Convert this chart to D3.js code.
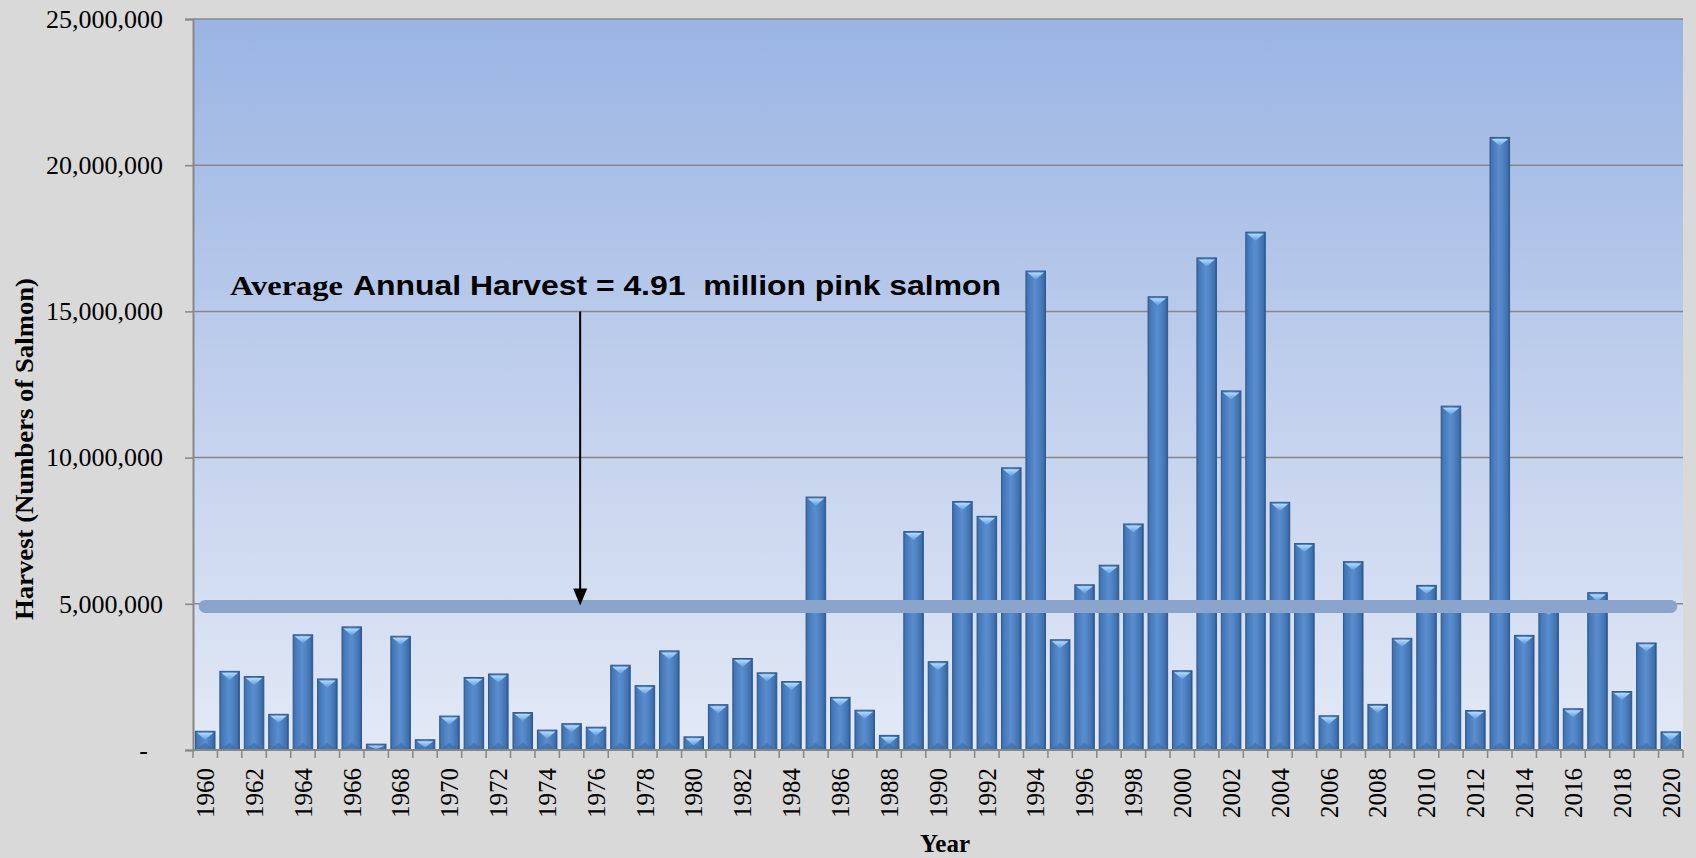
<!DOCTYPE html>
<html>
<head>
<meta charset="utf-8">
<script src="https://cdn.jsdelivr.net/npm/d3@7"></script>
<style>
  html, body { margin: 0; padding: 0; background: #D9D9D9; }
  svg { display: block; }
</style>
</head>
<body>
<svg id="chart" width="1696" height="858"></svg>
<script>
const years = d3.range(1960, 2021);
const harvest = [
  0.64, 2.69, 2.51, 1.22, 3.94, 2.43, 4.21, 0.20, 3.89, 0.35,
  1.16, 2.48, 2.60, 1.28, 0.68, 0.90, 0.78, 2.90, 2.20, 3.39,
  0.45, 1.55, 3.13, 2.64, 2.34, 8.65, 1.80, 1.36, 0.50, 7.47,
  3.02, 8.50, 7.99, 9.65, 16.38, 3.77, 5.65, 6.32, 7.73, 15.50,
  2.71, 16.83, 12.28, 17.71, 8.47, 7.06, 1.17, 6.44, 1.56, 3.82,
  5.63, 11.76, 1.35, 20.95, 3.92, 4.90, 1.41, 5.38, 2.00, 3.66,
  0.62
].map(v => v * 1e6);
const yTicks = [0, 5e6, 10e6, 15e6, 20e6, 25e6];
const xTickYears = years.filter(y => y % 2 === 0);
const averageHarvest = 4.91e6;
const annotationPrefix = "Average";
const annotationText = "Annual Harvest = 4.91\u00a0 million pink salmon";
const yTitle = "Harvest (Numbers of Salmon)";
const xTitle = "Year";

const svg = d3.select("#chart");
const W = 1696, H = 858;
const pLeft = 193, pRight = 1683, pTop = 19, pBottom = 750;

svg.append("rect").attr("width", W).attr("height", H).attr("fill", "#D9D9D9");

const defs = svg.append("defs");
const bg = defs.append("linearGradient").attr("id", "plotbg").attr("x1", 0).attr("y1", 0).attr("x2", 0).attr("y2", 1);
bg.append("stop").attr("offset", "0%").attr("stop-color", "#9AB4E3");
bg.append("stop").attr("offset", "50%").attr("stop-color", "#C0CFEC");
bg.append("stop").attr("offset", "100%").attr("stop-color", "#E3E9F6");

const barG = defs.append("linearGradient").attr("id", "bargrad").attr("x1", 0).attr("y1", 0).attr("x2", 1).attr("y2", 0);
[["0%", "#3A6AA8"], ["10%", "#4477B7"], ["45%", "#5A8DCD"], ["60%", "#5487C8"], ["90%", "#3F70AE"], ["100%", "#2C5689"]]
  .forEach(([o, c]) => barG.append("stop").attr("offset", o).attr("stop-color", c));

const capG = defs.append("linearGradient").attr("id", "capgrad").attr("x1", 0).attr("y1", 0).attr("x2", 0).attr("y2", 1);
capG.append("stop").attr("offset", "0%").attr("stop-color", "#B4DCFF");
capG.append("stop").attr("offset", "100%").attr("stop-color", "#5E9BE0");

const x = d3.scaleBand().domain(years).range([pLeft, pRight]).paddingInner(0.2).paddingOuter(0.1);
const y = d3.scaleLinear().domain([0, 25e6]).range([pBottom, pTop]);
const step = x.step(), bw = x.bandwidth();

// plot area background
svg.append("rect").attr("x", pLeft).attr("y", y(25e6)).attr("width", pRight - pLeft).attr("height", y(0) - y(25e6))
  .attr("fill", "url(#plotbg)");

// gridlines
svg.append("g").selectAll("line").data(yTicks.filter(t => t > 0)).join("line")
  .attr("x1", pLeft).attr("x2", pRight).attr("y1", d => y(d)).attr("y2", d => y(d))
  .attr("stroke", "#878787").attr("stroke-width", 1.5);

// y axis
const yAxis = d3.axisLeft(y).tickValues(yTicks).tickSize(8).tickPadding(22)
  .tickFormat(d => d === 0 ? "-" : d3.format(",")(d));
const gy = svg.append("g").attr("transform", `translate(${pLeft},0)`).call(yAxis);
gy.select(".domain").attr("stroke", "#878787").attr("stroke-width", 2);
gy.selectAll(".tick line").attr("stroke", "#878787").attr("stroke-width", 1.5);
gy.selectAll(".tick text").attr("font-family", "'Liberation Serif', 'Times New Roman', serif")
  .attr("font-size", 26).attr("fill", "#000")
  .attr("dx", d => d === 0 ? -15 : 0);

// bars
const bars = svg.append("g").selectAll("g").data(years.map((yr, i) => ({ yr, v: harvest[i] }))).join("g");
bars.append("rect")
  .attr("x", d => x(d.yr)).attr("y", d => y(d.v))
  .attr("width", bw).attr("height", d => y(0) - y(d.v))
  .attr("fill", "url(#bargrad)").attr("stroke", "#30598C").attr("stroke-width", 1);
// bottom bevel (subtle)
bars.append("path")
  .attr("d", d => {
    const x0 = x(d.yr), x1 = x0 + bw, b = y(0), hgt = Math.min(6, (y(0) - y(d.v)) / 2);
    return `M${x0 + 1},${b - 1}L${x1 - 1},${b - 1}L${x0 + bw / 2},${b - 1 - hgt}Z`;
  })
  .attr("fill", "#3B6AA6").attr("opacity", 0.6);
// top cap (bevel)
bars.append("path")
  .attr("d", d => {
    const x0 = x(d.yr), x1 = x0 + bw, t = y(d.v), hgt = Math.min(bw * 0.36, (y(0) - y(d.v)) * 0.6);
    return `M${x0 + 1.5},${t + 1.5}L${x1 - 1.5},${t + 1.5}L${x0 + bw / 2},${t + 1.5 + hgt}Z`;
  })
  .attr("fill", "url(#capgrad)");

// x axis
const gxLine = svg.append("g");
gxLine.append("line").attr("x1", pLeft).attr("x2", pRight).attr("y1", y(0)).attr("y2", y(0))
  .attr("stroke", "#878787").attr("stroke-width", 2);
const boundaries = years.map(yr => x(yr) - step * 0.1).concat([pRight]);
gxLine.selectAll("line.tk").data(boundaries).join("line").attr("class", "tk")
  .attr("x1", d => d).attr("x2", d => d).attr("y1", y(0)).attr("y2", y(0) + 8)
  .attr("stroke", "#878787").attr("stroke-width", 1.5);

const xAxis = d3.axisBottom(x).tickValues(xTickYears).tickSize(0).tickPadding(0);
const gx = svg.append("g").attr("transform", `translate(0,${y(0)})`).call(xAxis);
gx.select(".domain").remove();
gx.selectAll(".tick text")
  .attr("font-family", "'Liberation Serif', 'Times New Roman', serif")
  .attr("font-size", 25).attr("fill", "#000")
  .attr("text-anchor", "end")
  .attr("transform", "translate(0,18) rotate(-90)")
  .attr("x", 0).attr("y", 0).attr("dy", "0.35em");

// average line
svg.append("line")
  .attr("x1", x(years[0]) + bw / 2).attr("x2", x(years[years.length - 1]) + bw / 2)
  .attr("y1", y(averageHarvest)).attr("y2", y(averageHarvest))
  .attr("stroke", "#8AA4CC").attr("stroke-width", 13).attr("stroke-linecap", "round");

// arrow
const ax = x(1975) + bw / 2 + step * 0.35;
svg.append("line").attr("x1", ax).attr("x2", ax).attr("y1", y(15e6)).attr("y2", y(averageHarvest) - 14)
  .attr("stroke", "#000").attr("stroke-width", 2);
svg.append("path")
  .attr("d", `M${ax - 7},${y(averageHarvest) - 18}L${ax + 7},${y(averageHarvest) - 18}L${ax},${y(averageHarvest) - 1}Z`)
  .attr("fill", "#000");

// annotation
const ann = svg.append("text").attr("x", 230).attr("y", 295).attr("font-weight", "bold").attr("font-size", 28).attr("fill", "#000");
ann.append("tspan").attr("font-family", "'Liberation Serif', 'Times New Roman', serif")
  .attr("textLength", 113).attr("lengthAdjust", "spacingAndGlyphs").text(annotationPrefix);
ann.append("tspan").attr("x", 353).attr("font-family", "'Liberation Sans', Arial, sans-serif")
  .attr("textLength", 648).attr("lengthAdjust", "spacingAndGlyphs").text(annotationText);

// axis titles
svg.append("text")
  .attr("transform", `translate(33,449) rotate(-90)`)
  .attr("text-anchor", "middle")
  .attr("font-family", "'Liberation Serif', 'Times New Roman', serif")
  .attr("font-weight", "bold").attr("font-size", 25)
  .attr("textLength", 342).attr("lengthAdjust", "spacingAndGlyphs")
  .text(yTitle);
svg.append("text")
  .attr("x", 945).attr("y", 852).attr("text-anchor", "middle")
  .attr("font-family", "'Liberation Serif', 'Times New Roman', serif")
  .attr("font-weight", "bold").attr("font-size", 25)
  .text(xTitle);
</script>
</body>
</html>
